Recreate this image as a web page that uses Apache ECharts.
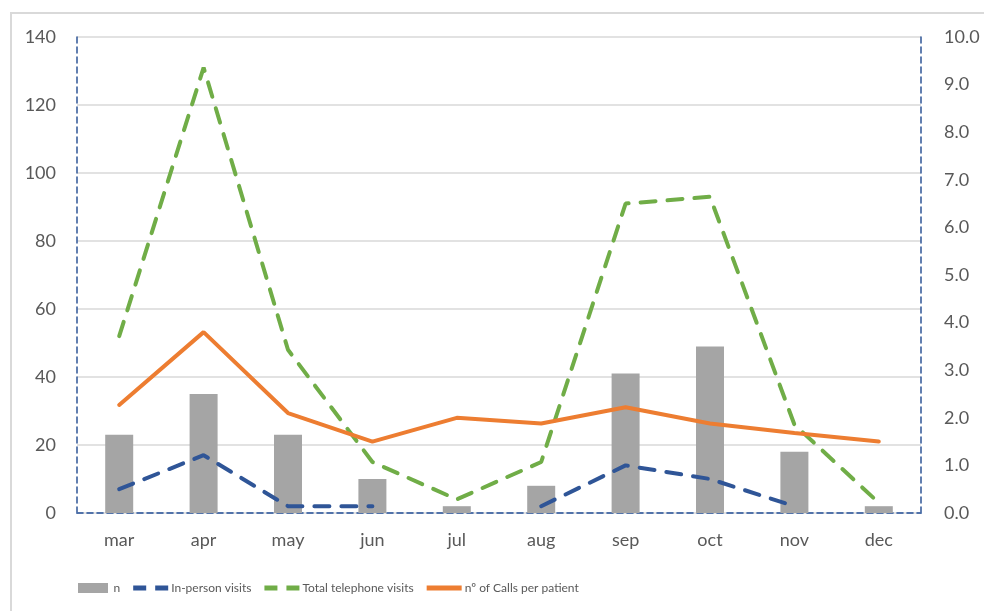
<!DOCTYPE html>
<html>
<head>
<meta charset="utf-8">
<script src="https://cdn.jsdelivr.net/npm/echarts@6/dist/echarts.min.js"></script>
<style>
  html, body { margin: 0; padding: 0; background: #fff; }
  #frame { position: absolute; left: 10px; top: 12px; right: -4px; bottom: -4px; border: 2px solid #d9d9d9; }
  #chart { position: absolute; left: 0; top: 0; width: 984px; height: 611px; }
</style>
</head>
<body>
<div id="frame"></div>
<div id="chart"></div>
<script>
// Months shown on the category axis
var months = ['mar', 'apr', 'may', 'jun', 'jul', 'aug', 'sep', 'oct', 'nov', 'dec'];
// Number of patients per month (bars, left axis)
var nPatients = [23, 35, 23, 10, 2, 8, 41, 49, 18, 2];
// In-person visits per month (left axis); no value in jul and dec
var inPersonVisits = [7, 17, 2, 2, null, 2, 14, 10, 2, null];
// Total telephone visits per month (left axis)
var telephoneVisits = [52, 131, 48, 15, 4, 15, 91, 93, 26, 3];
// Calls per patient (right axis)
var callsPerPatient = [2.27, 3.8, 2.1, 1.5, 2.0, 1.88, 2.22, 1.88, 1.68, 1.5];

var FONT = 'Lato, "Open Sans", sans-serif';
var LABEL_COLOR = '#595959';
var FRAME_BLUE = '#2f5597';

// legend glyphs: a solid block for the bars, two dashes or one bar for the lines
var ICON_BLOCK = 'path://M0,0h30v10h-30z';
var ICON_DASHES = 'path://M0,0h13v5h-13zM22,0h13v5h-13z';
var ICON_SOLID = 'path://M0,0h35v5h-35z';

var chart = echarts.init(document.getElementById('chart'), null, { renderer: 'canvas' });

chart.setOption({
  animation: false,
  textStyle: { fontFamily: FONT },
  grid: { left: 77, right: 63, top: 37, bottom: 98, containLabel: false },
  legend: {
    top: 577,
    left: 73,
    itemGap: 13,
    itemWidth: 35,
    itemHeight: 10,
    symbolKeepAspect: true,
    textStyle: { fontFamily: FONT, fontSize: 12, color: LABEL_COLOR, padding: [0, 0, 0, -2] },
    itemStyle: { borderWidth: 0 },
    lineStyle: { width: 0 },
    data: [
      { name: 'n', icon: ICON_BLOCK },
      { name: 'In-person visits', icon: ICON_DASHES },
      { name: 'Total telephone visits', icon: ICON_DASHES },
      { name: 'nº of Calls per patient', icon: ICON_SOLID }
    ]
  },
  xAxis: [
    {
      type: 'category',
      data: months,
      position: 'bottom',
      axisLine: { show: true, lineStyle: { color: '#b4c7e7', width: 1.5, type: [6, 4] } },
      axisTick: { show: false },
      axisLabel: { color: LABEL_COLOR, fontSize: 18, margin: 18, fontFamily: FONT },
      splitLine: { show: false }
    },
    {
      // frame along the top of the plot
      type: 'category',
      data: months,
      position: 'top',
      axisLine: { show: true, lineStyle: { color: FRAME_BLUE, width: 1.5, type: [6, 4] } },
      axisTick: { show: false },
      axisLabel: { show: false },
      splitLine: { show: false }
    }
  ],
  yAxis: [
    {
      type: 'value',
      min: 0, max: 140, interval: 20,
      position: 'left',
      axisLine: { show: true, lineStyle: { color: FRAME_BLUE, width: 1.5, type: [6, 4] } },
      axisTick: { show: false },
      axisLabel: { color: LABEL_COLOR, fontSize: 18, margin: 21, fontFamily: FONT },
      splitLine: { show: true, lineStyle: { color: '#d9d9d9', width: 1.5 } }
    },
    {
      type: 'value',
      min: 0, max: 10, interval: 1,
      position: 'right',
      axisLine: { show: true, lineStyle: { color: FRAME_BLUE, width: 1.5, type: [6, 4] } },
      axisTick: { show: false },
      axisLabel: {
        color: LABEL_COLOR, fontSize: 18, margin: 23, fontFamily: FONT,
        formatter: function (v) { return v.toFixed(1); }
      },
      splitLine: { show: false }
    }
  ],
  series: [
    {
      name: 'n',
      type: 'bar',
      yAxisIndex: 0,
      data: nPatients,
      barWidth: 28,
      itemStyle: { color: '#a5a5a5' },
      z: 2
    },
    {
      name: 'In-person visits',
      type: 'line',
      yAxisIndex: 0,
      data: inPersonVisits,
      connectNulls: false,
      showSymbol: false,
      symbol: 'none',
      lineStyle: { color: FRAME_BLUE, width: 4, type: [15, 12], cap: 'round' },
      itemStyle: { color: FRAME_BLUE },
      z: 3
    },
    {
      name: 'Total telephone visits',
      type: 'line',
      yAxisIndex: 0,
      data: telephoneVisits,
      showSymbol: false,
      symbol: 'none',
      lineStyle: { color: '#70ad47', width: 4, type: [15, 12], cap: 'round' },
      itemStyle: { color: '#70ad47' },
      z: 3
    },
    {
      name: 'nº of Calls per patient',
      type: 'line',
      yAxisIndex: 1,
      data: callsPerPatient,
      showSymbol: false,
      symbol: 'none',
      lineStyle: { color: '#ed7d31', width: 4, cap: 'round' },
      itemStyle: { color: '#ed7d31' },
      z: 4
    }
  ]
});
</script>
</body>
</html>
